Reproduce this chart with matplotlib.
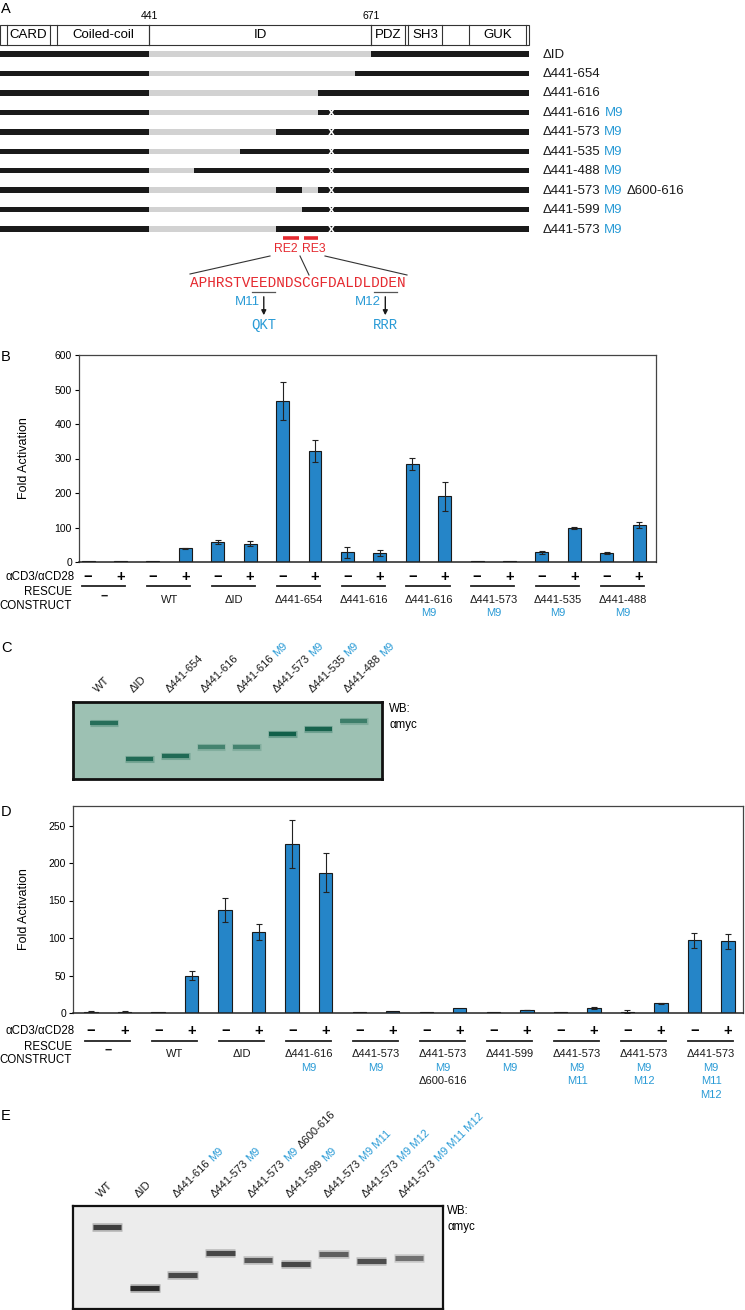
import numpy as np
import matplotlib
matplotlib.use('Agg')
import matplotlib.pyplot as plt
import matplotlib.transforms as mtransforms

plt.rcParams['font.family'] = ['Liberation Sans', 'DejaVu Sans']

W, H = 745, 1310
BLUE = '#2a9bd6'
RED = '#e52a30'
BARC = '#2585c8'
K = '#1a1a1a'

# ---------------- panel A data ----------------
domain_names = ['CARD', 'Coiled-coil', 'ID', 'PDZ', 'SH3', 'GUK']
domain_bounds = [(22, 149), (169, 441), (441, 671), (671, 775), (784, 888), (971, 1145)]
prot_len = 1154
m9_site = 630
row_labels = [
    [('ΔID', K)],
    [('Δ441-654', K)],
    [('Δ441-616', K)],
    [('Δ441-616', K), ('M9', BLUE)],
    [('Δ441-573', K), ('M9', BLUE)],
    [('Δ441-535', K), ('M9', BLUE)],
    [('Δ441-488', K), ('M9', BLUE)],
    [('Δ441-573', K), ('M9', BLUE), ('Δ600-616', K)],
    [('Δ441-599', K), ('M9', BLUE)],
    [('Δ441-573', K), ('M9', BLUE)],
]
row_deletions = [[(441, 671)], [(441, 654)], [(441, 616)], [(441, 616)], [(441, 573)],
                 [(441, 535)], [(441, 488)], [(441, 573), (600, 616)], [(441, 599)], [(441, 573)]]
row_m9 = [False, False, False, True, True, True, True, True, True, True]
re_regions = {'RE2': (580, 596), 'RE3': (602, 616)}
sequence = 'APHRSTVEEDNDSCGFDALDLDDEN'
mutations = [('M11', 7, 9, 'QKT'), ('M12', 21, 23, 'RRR')]

# ---------------- panel B data ----------------
b_labels = [[('−', K)], [('WT', K)], [('ΔID', K)], [('Δ441-654', K)], [('Δ441-616', K)],
            [('Δ441-616', K), ('M9', BLUE)], [('Δ441-573', K), ('M9', BLUE)],
            [('Δ441-535', K), ('M9', BLUE)], [('Δ441-488', K), ('M9', BLUE)]]
b_minus = [2, 2, 57, 467, 28, 284, 2, 28, 26]
b_minus_err = [0, 0, 6, 56, 16, 18, 0, 4, 3]
b_plus = [2, 40, 53, 322, 25, 190, 2, 99, 107]
b_plus_err = [0, 1, 8, 31, 9, 41, 0, 2, 9]

# ---------------- panel C data ----------------
c_lanes = [[('WT', K)], [('ΔID', K)], [('Δ441-654', K)], [('Δ441-616', K)],
           [('Δ441-616', K), ('M9', BLUE)], [('Δ441-573', K), ('M9', BLUE)],
           [('Δ441-535', K), ('M9', BLUE)], [('Δ441-488', K), ('M9', BLUE)]]
c_mobility = [0.27, 0.74, 0.70, 0.58, 0.58, 0.42, 0.35, 0.25]
c_intensity = [0.8, 0.85, 0.85, 0.55, 0.55, 1.0, 0.95, 0.6]

# ---------------- panel D data ----------------
d_labels = [[('−', K)], [('WT', K)], [('ΔID', K)],
            [('Δ441-616', K), ('M9', BLUE)], [('Δ441-573', K), ('M9', BLUE)],
            [('Δ441-573', K), ('M9', BLUE), ('Δ600-616', K)], [('Δ441-599', K), ('M9', BLUE)],
            [('Δ441-573', K), ('M9', BLUE), ('M11', BLUE)],
            [('Δ441-573', K), ('M9', BLUE), ('M12', BLUE)],
            [('Δ441-573', K), ('M9', BLUE), ('M11', BLUE), ('M12', BLUE)]]
d_minus = [2, 2, 138, 226, 1.5, 1.5, 1.5, 1.5, 2, 97]
d_minus_err = [0.5, 0, 16, 32, 0, 0, 0, 0, 2, 10]
d_plus = [2, 50, 108, 187, 3, 7, 4, 7, 13, 95.5]
d_plus_err = [1, 6, 11, 26, 0, 0, 0.5, 1.5, 1, 10]

# ---------------- panel E data ----------------
e_lanes = [[('WT', K)], [('ΔID', K)], [('Δ441-616', K), ('M9', BLUE)],
           [('Δ441-573', K), ('M9', BLUE)], [('Δ441-573', K), ('M9', BLUE), ('Δ600-616', K)],
           [('Δ441-599', K), ('M9', BLUE)], [('Δ441-573', K), ('M9 M11', BLUE)],
           [('Δ441-573', K), ('M9 M12', BLUE)], [('Δ441-573', K), ('M9 M11 M12', BLUE)]]
e_mobility = [0.20, 0.80, 0.67, 0.46, 0.52, 0.56, 0.47, 0.53, 0.50]
e_intensity = [0.85, 1.0, 0.8, 0.8, 0.7, 0.8, 0.65, 0.75, 0.55]


fig = plt.figure(figsize=(W / 100, H / 100), dpi=100)
ov = fig.add_axes([0, 0, 1, 1])
ov.set_xlim(0, W)
ov.set_ylim(H, 0)
ov.axis('off')
renderer = fig.canvas.get_renderer()


def px_axes(l, t, r, b):
    return fig.add_axes([l / W, 1 - b / H, (r - l) / W, (b - t) / H])


def rich(x, y, parts, base, rot=0, fs=8, **kw):
    # consecutive coloured pieces along one (possibly rotated) baseline
    ang = np.deg2rad(rot)
    off = 0.0
    for s, col in parts:
        tr = mtransforms.offset_copy(base, fig=fig, x=off * np.cos(ang), y=off * np.sin(ang), units='dots')
        ov.text(x, y, s, transform=tr, color=col, fontsize=fs, rotation=rot,
                rotation_mode='anchor', ha='left', clip_on=False, **kw)
        tmp = ov.text(0, 0, s, fontsize=fs)
        off += tmp.get_window_extent(renderer).width + fs * 0.28 * 100 / 72
        tmp.remove()


def res_px(r):
    return np.interp(r, [1, 441, 671, prot_len], [0, 149, 371, 529])


# ================= A =================
ov.text(1, 9, 'A', fontsize=10.5, va='center')
for r in [441, 671]:
    ov.text(res_px(r), 16, str(r), fontsize=7.5, ha='center', va='center')
box_top, box_bot = 25, 45
ov.add_patch(plt.Rectangle((0, box_top), res_px(prot_len), box_bot - box_top, fill=False, ec='#333', lw=0.8))
for name, (s, e) in zip(domain_names, domain_bounds):
    for r in (s, e):
        ov.plot([res_px(r)] * 2, [box_top, box_bot], color='#333', lw=0.8)
    ov.text((res_px(s) + res_px(e)) / 2, (box_top + box_bot) / 2 + 0.5, name, fontsize=9.5, ha='center', va='center')

row_y = 54 + 19.45 * np.arange(len(row_labels))
bh = 5.5
for y, dels, m9, lab in zip(row_y, row_deletions, row_m9, row_labels):
    ov.broken_barh([(0, res_px(prot_len))], (y - bh / 2, bh), facecolors=K)
    ov.broken_barh([(res_px(s), res_px(e) - res_px(s)) for s, e in dels], (y - bh / 2, bh), facecolors='#d2d2d2')
    if m9:
        xm = res_px(m9_site)
        ov.plot([xm - 2, xm + 2], [y - bh / 2, y + bh / 2], color='white', lw=1.1)
        ov.plot([xm - 2, xm + 2], [y + bh / 2, y - bh / 2], color='white', lw=1.1)
    rich(543, y + 3.5, lab, ov.transData, fs=9.5)

for (name, (s, e)), dx in zip(re_regions.items(), [-5, 3]):
    ov.plot([res_px(s), res_px(e)], [238, 238], color=RED, lw=2.6, solid_capstyle='butt')
    ov.text((res_px(s) + res_px(e)) / 2 + dx, 249, name, color=RED, fontsize=8.8, ha='center', va='center')

seq_x0, cw = 190, 8.68
seq_x1 = seq_x0 + cw * len(sequence)
ov.plot([seq_x0, 270], [274, 256], color='#333', lw=0.8)
ov.plot([300, 309], [256, 275], color='#333', lw=0.8)
ov.plot([325, seq_x1], [256, 275], color='#333', lw=0.8)
ov.text(seq_x0, 283, sequence, family='Liberation Mono', fontsize=10.4, color=RED, ha='left', va='center')
for name, i0, i1, new in mutations:
    xa = seq_x0 + cw * i0 + 1.5
    xb = seq_x0 + cw * (i1 + 1) - 1.5
    xc = (xa + xb) / 2
    ov.plot([xa, xb], [292, 292], color='#555', lw=0.9)
    ov.annotate('', xy=(xc, 318), xytext=(xc, 294),
                arrowprops=dict(arrowstyle='-|>', color=K, lw=1.0, mutation_scale=7))
    ov.text(xc - 4, 302, name, color=BLUE, fontsize=9.5, ha='right', va='center')
    ov.text(xc, 325, new, color=BLUE, family='Liberation Mono', fontsize=10, ha='center', va='center')


# ================= bar charts =================
def bar_panel(rect, letter, letter_y, minus, minus_err, plus, plus_err, labels, ylim, yticks,
              xlim, sign_y, line_y, resc_y, cons_y, lab_y0, lab_dy, lab_fs, left_x):
    ax = px_axes(*rect)
    n = len(minus)
    xm = np.arange(n) * 2
    xp = xm + 1
    ax.bar(xm, minus, width=0.4, color=BARC, edgecolor=K, linewidth=0.8)
    ax.bar(xp, plus, width=0.4, color=BARC, edgecolor=K, linewidth=0.8)
    for xs, v, e in [(xm, minus, minus_err), (xp, plus, plus_err)]:
        v, e = np.array(v), np.array(e)
        m = e > 0
        ax.errorbar(xs[m], v[m], yerr=e[m], fmt='none', ecolor='#222', elinewidth=0.8, capsize=2.3, capthick=0.8)
    ax.set_ylim(*ylim)
    ax.set_xlim(*xlim)
    ax.set_yticks(yticks)
    ax.set_xticks([])
    ax.tick_params(axis='y', direction='out', length=3, width=0.8, labelsize=7.5, pad=2)
    for sp in ax.spines.values():
        sp.set_color('#444')
        sp.set_linewidth(0.9)
    ax.spines['bottom'].set_color('#222')
    ax.spines['bottom'].set_linewidth(1.1)
    ax.set_ylabel('Fold Activation', fontsize=9)
    ax.yaxis.set_label_coords(-(rect[0] - 30) / (rect[2] - rect[0]), 0.5)
    ov.text(1, letter_y, letter, fontsize=10.5, va='center')

    tr = mtransforms.blended_transform_factory(ax.transData, ov.transData)
    for a, b in zip(xm, xp):
        ov.text(a, sign_y, '−', transform=tr, fontsize=10.5, fontweight='bold', ha='center', va='center')
        ov.text(b, sign_y, '+', transform=tr, fontsize=10.5, fontweight='bold', ha='center', va='center')
        ov.plot([a - 0.18, b + 0.15], [line_y, line_y], transform=tr, color='#222', lw=1.3, clip_on=False)
    for a, lab in zip(xm, labels):
        for j, (s, col) in enumerate(lab):
            yy = lab_y0 + j * lab_dy
            if s == '−':
                ov.text(a + 0.5, yy - 3, s, transform=tr, fontsize=9, fontweight='bold',
                        ha='center', va='center', color=col)
            else:
                ov.text(a + 0.5, yy, s, transform=tr, fontsize=lab_fs, ha='center', va='center', color=col)
    ov.text(left_x, sign_y, 'αCD3/αCD28', fontsize=8.3, ha='right', va='center')
    ov.text(left_x - 3, resc_y, 'RESCUE', fontsize=8.3, ha='right', va='center')
    ov.text(left_x - 3, cons_y, 'CONSTRUCT', fontsize=8.3, ha='right', va='center')
    return ax


bar_panel((79, 355, 656, 562), 'B', 357, b_minus, b_minus_err, b_plus, b_plus_err, b_labels,
          (0, 600), np.arange(0, 601, 100), (-0.28, 17.52), 577, 586, 592, 606, 600, 12.5, 8, 75)
bar_panel((73, 806, 743, 1013), 'D', 812, d_minus, d_minus_err, d_plus, d_plus_err, d_labels,
          (0, 276), np.arange(0, 251, 50), (-0.54, 19.45), 1031, 1041, 1047, 1060, 1054, 13.7, 8, 75)


# ================= blots =================
def blot(rect, letter, letter_y, lanes, mob, inten, bg, band_col, xlim, band_lw, label_y, wb_x, wb_y, border):
    ax = px_axes(*rect)
    ax.set_facecolor(bg)
    x = np.arange(1, len(lanes) + 1)
    cols = [matplotlib.colors.to_rgba(band_col, a * 0.35) for a in inten]
    ax.hlines(mob, x - 0.40, x + 0.40, colors=cols, lw=band_lw * 1.7)
    cols = [matplotlib.colors.to_rgba(band_col, a) for a in inten]
    ax.hlines(mob, x - 0.38, x + 0.38, colors=cols, lw=band_lw)
    ax.set_xlim(*xlim)
    ax.set_ylim(1, 0)
    ax.set_xticks([])
    ax.set_yticks([])
    for sp in ax.spines.values():
        sp.set_linewidth(border)
        sp.set_color('#111')
    ov.text(1, letter_y, letter, fontsize=10.5, va='center')
    base = mtransforms.offset_copy(mtransforms.blended_transform_factory(ax.transData, ov.transData),
                                   fig=fig, x=-6, y=0, units='dots')
    for xi, lab in zip(x, lanes):
        rich(xi, label_y, lab, base, rot=45, fs=8)
    ov.text(wb_x, wb_y, 'WB:', fontsize=8.3, va='center')
    ov.text(wb_x, wb_y + 16, 'αmyc', fontsize=8.3, va='center')


blot((73, 702, 382, 779), 'C', 648, c_lanes, c_mobility, c_intensity, '#9dc1b3', '#12604a',
     (0.13, 8.79), 3.0, 693, 389, 709, 2.0)
blot((73, 1206, 443, 1309), 'E', 1116, e_lanes, e_mobility, e_intensity, '#ececec', '#2b2b2b',
     (0.10, 9.9), 3.6, 1198, 447, 1211, 1.6)

fig.savefig('out.png', dpi=100)
